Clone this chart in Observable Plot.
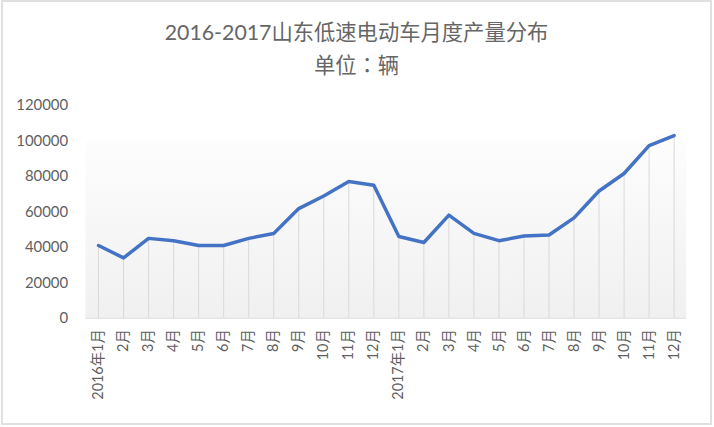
<!DOCTYPE html>
<html><head><meta charset="utf-8">
<script src="https://cdn.jsdelivr.net/npm/d3@7"></script>
<script src="https://cdn.jsdelivr.net/npm/@observablehq/plot@0.6"></script>
<style>
html,body{margin:0;padding:0;background:#fff;}
#frame{position:absolute;left:1px;top:0;width:707px;height:421px;border:2px solid #e0e0e0;font-family:Lato,"Noto Sans CJK SC",sans-serif;background:#fff;}
#title{position:absolute;top:0;left:0;width:100%;text-align:center;color:#666;font-size:21.3px;line-height:31px;padding-top:14.5px;}
#title .colon{font-family:"Noto Sans CJK TC",sans-serif;}
#chart{position:absolute;top:84px;left:-3px;}
</style></head><body>
<div id="frame">
  <div id="title"><div>2016-2017山东低速电动车月度产量分布</div><div>单位<span class="colon">：</span>辆</div></div>
  <div id="chart"></div>
</div>
<script>
const periods = ["2016-01","2016-02","2016-03","2016-04","2016-05","2016-06","2016-07","2016-08","2016-09","2016-10","2016-11","2016-12",
                 "2017-01","2017-02","2017-03","2017-04","2017-05","2017-06","2017-07","2017-08","2017-09","2017-10","2017-11","2017-12"];
const tickLabels = ["2016年1月","2月","3月","4月","5月","6月","7月","8月","9月","10月","11月","12月",
                    "2017年1月","2月","3月","4月","5月","6月","7月","8月","9月","10月","11月","12月"];
const output = [41000, 34000, 45000, 43700, 41000, 41000, 45000, 47800, 61800, 68900, 77100, 75000,
                46100, 42700, 58100, 47800, 43700, 46300, 46900, 56600, 71700, 81600, 97300, 103000];
const yTicks = [0, 20000, 40000, 60000, 80000, 100000, 120000];

const data = periods.map((p, i) => ({period: p, value: output[i]}));
const labelOf = new Map(periods.map((p, i) => [p, tickLabels[i]]));

// gradient plot-area background
function background(index, scales, values, dims) {
  const ns = "http://www.w3.org/2000/svg";
  const g = document.createElementNS(ns, "g");
  const defs = document.createElementNS(ns, "defs");
  const lg = document.createElementNS(ns, "linearGradient");
  lg.setAttribute("id", "plotbg"); lg.setAttribute("x1", "0"); lg.setAttribute("y1", "0");
  lg.setAttribute("x2", "0"); lg.setAttribute("y2", "1");
  [["0%", "#fdfdfd"], ["100%", "#f0f0f0"]].forEach(([o, c]) => {
    const s = document.createElementNS(ns, "stop");
    s.setAttribute("offset", o); s.setAttribute("stop-color", c); lg.appendChild(s);
  });
  defs.appendChild(lg); g.appendChild(defs);
  const r = document.createElementNS(ns, "rect");
  const top = scales.y(yTicks[5]), bottom = scales.y(0);
  r.setAttribute("x", dims.marginLeft);
  r.setAttribute("width", dims.width - dims.marginLeft - dims.marginRight);
  r.setAttribute("y", top);
  r.setAttribute("height", bottom - top);
  r.setAttribute("fill", "url(#plotbg)");
  g.appendChild(r);
  return g;
}

const chart = Plot.plot({
  width: 714,
  height: 340,
  marginTop: 19,
  marginBottom: 107,
  marginLeft: 86,
  marginRight: 24,
  style: {fontFamily: 'Lato, "Noto Sans CJK SC", sans-serif', color: "#666", background: "transparent", overflow: "visible"},
  x: {type: "point", domain: periods, padding: 0.5, round: false, axis: null},
  y: {domain: [0, 120000], axis: null},
  marks: [
    background,
    Plot.ruleX(data, {x: "period", y1: 0, y2: "value", stroke: "#d9d9d9", strokeWidth: 1}),
    Plot.ruleY([0], {stroke: "#d9d9d9", strokeWidth: 1}),
    Plot.line(data, {x: "period", y: "value", stroke: "#4472C4", strokeWidth: 3.5, strokeLinejoin: "round", strokeLinecap: "round"}),
    Plot.axisY({ticks: yTicks, tickSize: 0, tickPadding: 18, tickFormat: d => String(d), fontSize: 15, label: null, fill: "#5f5f5f"}),
    Plot.axisX({tickSize: 0, tickPadding: 11, tickRotate: -90, tickFormat: d => labelOf.get(d), fontSize: 14.5, label: null, fill: "#5f5f5f"})
  ]
});
document.getElementById("chart").appendChild(chart);
</script>
</body></html>
